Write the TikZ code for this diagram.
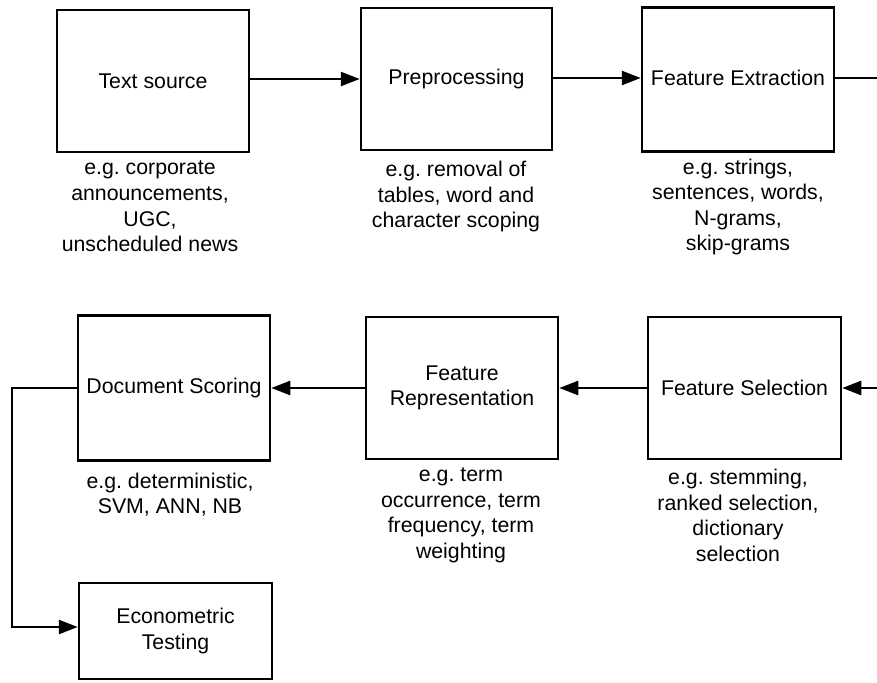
\documentclass[tikz,border=0pt]{standalone}
\usepackage{fontspec}
\setmainfont{Liberation Sans}
\usetikzlibrary{arrows.meta}
\frenchspacing
\begin{document}
\begin{tikzpicture}[x=1pt,y=-1pt,
  every node/.style={font=\fontsize{21.3}{25.6}\selectfont, text=black},
  stagebox/.style={draw=black, line width=2.5pt, rectangle, inner sep=0pt, align=center},
  captext/.style={align=center, inner sep=0pt},
  arr/.style={draw=black, line width=2.5pt, -{Triangle[length=19pt,width=14pt]}}]
\useasboundingbox (0,0) rectangle (877,682);
\clip (0,0) rectangle (877,682);
\fill[white] (0,0) rectangle (877,682);
% top row
\node[stagebox, minimum width=192pt, minimum height=142pt] (ts) at (153,81) {Text source};
\node[stagebox, minimum width=191pt, minimum height=142pt] (pp) at (456.5,79) {\raisebox{3pt}{Preprocessing}};
\node[stagebox, minimum width=192pt, minimum height=144pt] (fe) at (738,79.5) {\raisebox{3pt}{Feature Extraction}};
% bottom row
\node[stagebox, minimum width=193pt, minimum height=142pt] (fs) at (744.5,388) {Feature Selection};
\node[stagebox, minimum width=192pt, minimum height=142pt] (fr) at (462,388) {Feature\\Representation};
\node[stagebox, minimum width=192pt, minimum height=145pt] (ds) at (174,388) {Document Scoring};
\node[stagebox, minimum width=193pt, minimum height=96pt] (et) at (175.5,631) {Econometric\\Testing};
% captions
\node[captext] (tsc) at (150,206.5) {e.g. corporate\\announcements,\\UGC,\\unscheduled news};
\node[captext] (ppc) at (456,196.5) {e.g. removal of\\tables, word and\\character scoping};
\node[captext] (fec) at (738,207) {e.g. strings,\\sentences, words,\\N-grams,\\skip-grams};
\node[captext] (dsc) at (170,494.5) {e.g. deterministic,\\SVM, ANN, NB};
\node[captext] (frc) at (461,515.5) {e.g. term\\occurrence, term\\frequency, term\\weighting};
\node[captext] (fsc) at (738,515.5) {e.g. stemming,\\ranked selection,\\dictionary\\selection};
% connectors
\coordinate (r1) at (900,78);
\coordinate (l1) at (12,388);
\coordinate (l2) at (12,627);
\draw[arr] (ts.east |- 0,79) -- (pp.west |- 0,79);
\draw[arr] (pp.east |- 0,78) -- (fe.west |- 0,78);
\draw[arr] (fe.east |- r1) -- (r1) |- (fs.east);
\draw[arr] (fs.west) -- (fr.east);
\draw[arr] (fr.west) -- (ds.east);
\draw[arr] (ds.west |- l1) -- (l1) -- (l2) -- (et.west |- l2);
\end{tikzpicture}
\end{document}
